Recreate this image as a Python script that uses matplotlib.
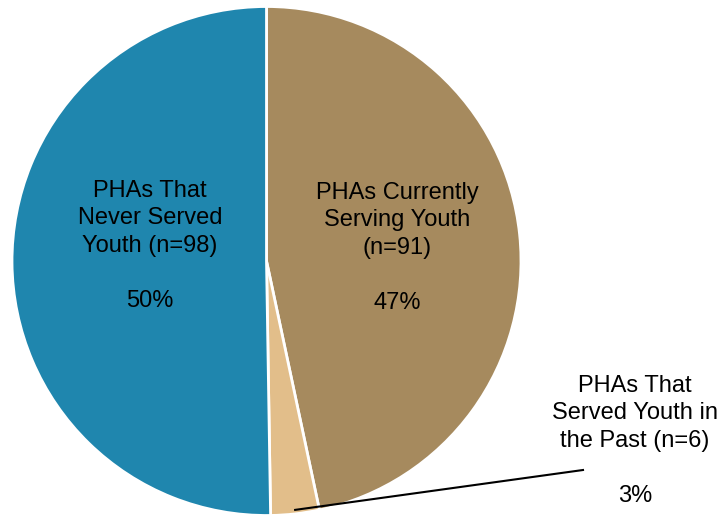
import numpy as np
import matplotlib.pyplot as plt

plt.rcParams['font.family'] = ['Liberation Sans', 'DejaVu Sans']

# Données
labels = ['PHAs Currently\nServing Youth\n(n=91)',
          'PHAs That\nServed Youth in\nthe Past (n=6)',
          'PHAs That\nNever Served\nYouth (n=98)']
counts = [91, 6, 98]
colors = ['#A68A5E', '#E2BE8A', '#1F86AE']

W, H = 719, 516
fig = plt.figure(figsize=(W / 100, H / 100), dpi=100)
ax = fig.add_axes([0, 0, 1, 1])

cx, cy, r = 266.5, 255, 254.5
wedges, _ = ax.pie(counts, colors=colors, startangle=90, counterclock=False,
                   center=(cx, cy), radius=r, frame=True,
                   wedgeprops=dict(edgecolor='white', linewidth=2))
ax.set_xlim(0, W)
ax.set_ylim(0, H)
ax.axis('off')

total = sum(counts)
pcts = [round(100 * c / total) for c in counts]

# Positions des étiquettes (pixels)
label_pos = [(397, H - 248), (635, H - 441), (150, H - 246)]
for lab, p, (x, y) in zip(labels, pcts, label_pos):
    ax.text(x, y, lab + '\n\n%d%%' % p, ha='center', va='center',
            fontsize=17, linespacing=1.33, color='black')

# Ligne de rappel pour la petite part
w = wedges[1]
ang = np.deg2rad((w.theta1 + w.theta2) / 2)
x0 = cx + r * np.cos(ang)
y0 = cy + r * np.sin(ang)
ax.plot([x0, 583], [y0 + 4, H - 470], color='black', lw=1.5)

fig.savefig('out.png', dpi=100)
